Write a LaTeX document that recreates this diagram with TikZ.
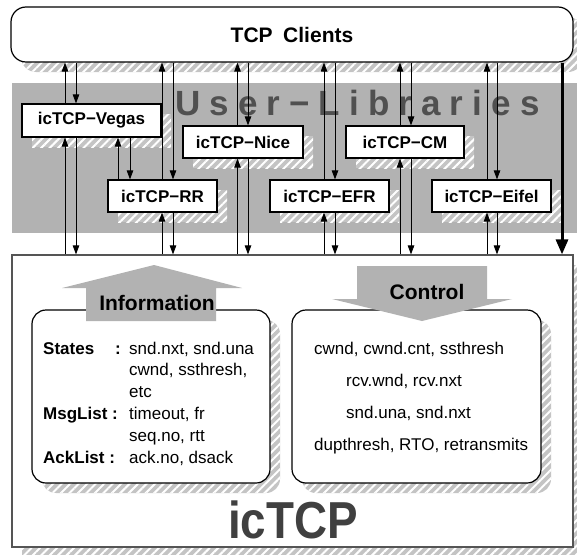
\documentclass[tikz,border=0pt]{standalone}
\usepackage{fontspec}
\setmainfont{Liberation Sans}
\usetikzlibrary{arrows.meta,patterns.meta,shadows}
\definecolor{bandgray}{RGB}{178,178,178}
\definecolor{hatchgray}{RGB}{196,196,196}
\definecolor{labelgray}{RGB}{80,80,80}
\definecolor{titlegray}{RGB}{64,64,64}
\definecolor{framegray}{RGB}{85,85,85}
\tikzset{
    hatchshadow/.style={
        general shadow={shadow xshift=10pt, shadow yshift=-10pt, fill=hatchgray},
        general shadow={shadow xshift=10pt, shadow yshift=-10pt,
            pattern={Lines[angle=45,distance=6pt,line width=2pt]}, pattern color=white},
    },
    libbox/.style={
        draw,
        fill=white,
        line width=1.2pt,
        inner sep=0,
        minimum height=32pt,
        font=\fontsize{17}{17}\selectfont\bfseries,
    },
    roundbox/.style={
        draw,
        fill=white,
        rounded corners=14pt,
        line width=1.2pt,
        inner sep=0,
    },
    sig/.style={
        line width=0.9pt,
        -{Triangle[length=9pt,width=6.5pt]},
    },
    keytext/.style={
        inner sep=0,
        anchor=base west,
        font=\fontsize{17}{17}\selectfont\bfseries,
    },
    valtext/.style={
        inner sep=0,
        anchor=base west,
        font=\fontsize{17}{17}\selectfont,
    },
}

\begin{document}
\begin{tikzpicture}[x=1pt, y=-1pt]
    \useasboundingbox (0,0) rectangle (577,554);

    \fill[bandgray] (12,83) rectangle (577,233);
    \node[inner sep=0, anchor=base west, text=labelgray,
          font=\fontsize{35}{35}\selectfont\bfseries\addfontfeature{LetterSpace=26}]
          (userlib) at (175,115) {User−Libraries};

    \node[roundbox, hatchshadow, rounded corners=15pt, minimum width=562pt, minimum height=55pt,
          font=\fontsize{21}{21}\selectfont\bfseries] (clients) at (292,34.5) {TCP\hspace{0.5em}Clients};

    \node[draw=framegray, fill=white, line width=1.2pt, hatchshadow,
          minimum width=561pt, minimum height=292pt] (ictcp) at (292.5,401) {};

    \node[libbox, hatchshadow, minimum width=139pt, minimum height=33pt] (vegas) at (91.5,120.5) {icTCP−Vegas};
    \node[libbox, hatchshadow, minimum width=120pt] (nice)  at (243,142)   {icTCP−Nice};
    \node[libbox, hatchshadow, minimum width=118pt] (cm)    at (405,142)   {icTCP−CM};
    \node[libbox, hatchshadow, minimum width=109pt] (rr)    at (162.5,196) {icTCP−RR};
    \node[libbox, hatchshadow, minimum width=119pt] (efr)   at (329.5,196) {icTCP−EFR};
    \node[libbox, hatchshadow, minimum width=119pt] (eifel) at (491.5,196) {icTCP−Eifel};

    \node[roundbox, hatchshadow, minimum width=238pt, minimum height=173pt] (infobox) at (151,396.5) {};
    \node[roundbox, hatchshadow, minimum width=249pt, minimum height=173pt] (ctrlbox) at (416.5,396.5) {};

    \fill[bandgray] (86,321) -- (86,288) -- (62,288) -- (154,265) -- (242,288) -- (216,288) -- (216,321) -- cycle;
    \fill[bandgray] (357,266) -- (487,266) -- (487,299) -- (512,299) -- (422,321) -- (332,299) -- (357,299) -- cycle;
    \node[inner sep=0, anchor=base, font=\fontsize{21}{21}\selectfont\bfseries] (infolbl) at (157,310) {Information};
    \node[inner sep=0, anchor=base, font=\fontsize{21}{21}\selectfont\bfseries] (ctrllbl) at (427,299) {Control};

    \node[keytext] (stkey)   at (43,354)    {States};
    \node[keytext] (stcolon) at (115,354)   {:};
    \node[valtext] (stval)   at (129,354)   {snd.nxt, snd.una};
    \node[valtext] (stval2)  at (129,375.8) {cwnd, ssthresh,};
    \node[valtext] (stval3)  at (129,397.6) {etc};
    \node[keytext] (msgkey)  at (43,419.4)  {MsgList :};
    \node[valtext] (msgval)  at (129,419.4) {timeout, fr};
    \node[valtext] (msgval2) at (129,441.2) {seq.no, rtt};
    \node[keytext] (ackkey)  at (43,463)    {AckList :};
    \node[valtext] (ackval)  at (129,463)   {ack.no, dsack};

    \node[valtext] (ctrl1) at (314,354) {cwnd, cwnd.cnt, ssthresh};
    \node[valtext] (ctrl2) at (346,386) {rcv.wnd, rcv.nxt};
    \node[valtext] (ctrl3) at (346,418) {snd.una, snd.nxt};
    \node[valtext] (ctrl4) at (314,450) {dupthresh, RTO, retransmits};

    \node[inner sep=0, anchor=base, text=titlegray, font=\fontsize{52}{52}\selectfont\bfseries]
          (ictcplbl) at (293,538) {\scalebox{0.88}[1]{icTCP}};

    \foreach \lib/\up/\dn in {vegas/-26.5/-15.5, rr/-0.5/10.5, nice/-5.5/5, efr/-5.5/5.5, cm/-5/6, eifel/-4.5/5.5} {
        \draw[sig] ([xshift=\up pt]\lib.north) -- ([xshift=\up pt]\lib.north |- clients.south);
        \draw[sig] ([xshift=\dn pt]\lib.north |- clients.south) -- ([xshift=\dn pt]\lib.north);
        \draw[sig] ([xshift=\up pt]\lib.south |- ictcp.north) -- ([xshift=\up pt]\lib.south);
        \draw[sig] ([xshift=\dn pt]\lib.south) -- ([xshift=\dn pt]\lib.south |- ictcp.north);
    }
    \draw[sig] ([xshift=26.5pt]vegas.south |- rr.north) -- ([xshift=26.5pt]vegas.south);
    \draw[sig] ([xshift=38.5pt]vegas.south) -- ([xshift=38.5pt]vegas.south |- rr.north);
    \draw[line width=3pt, -{Triangle[length=15pt,width=12pt]}]
        ([xshift=270pt]clients.south) -- ([xshift=270pt]clients.south |- ictcp.north);
\end{tikzpicture}
\end{document}
